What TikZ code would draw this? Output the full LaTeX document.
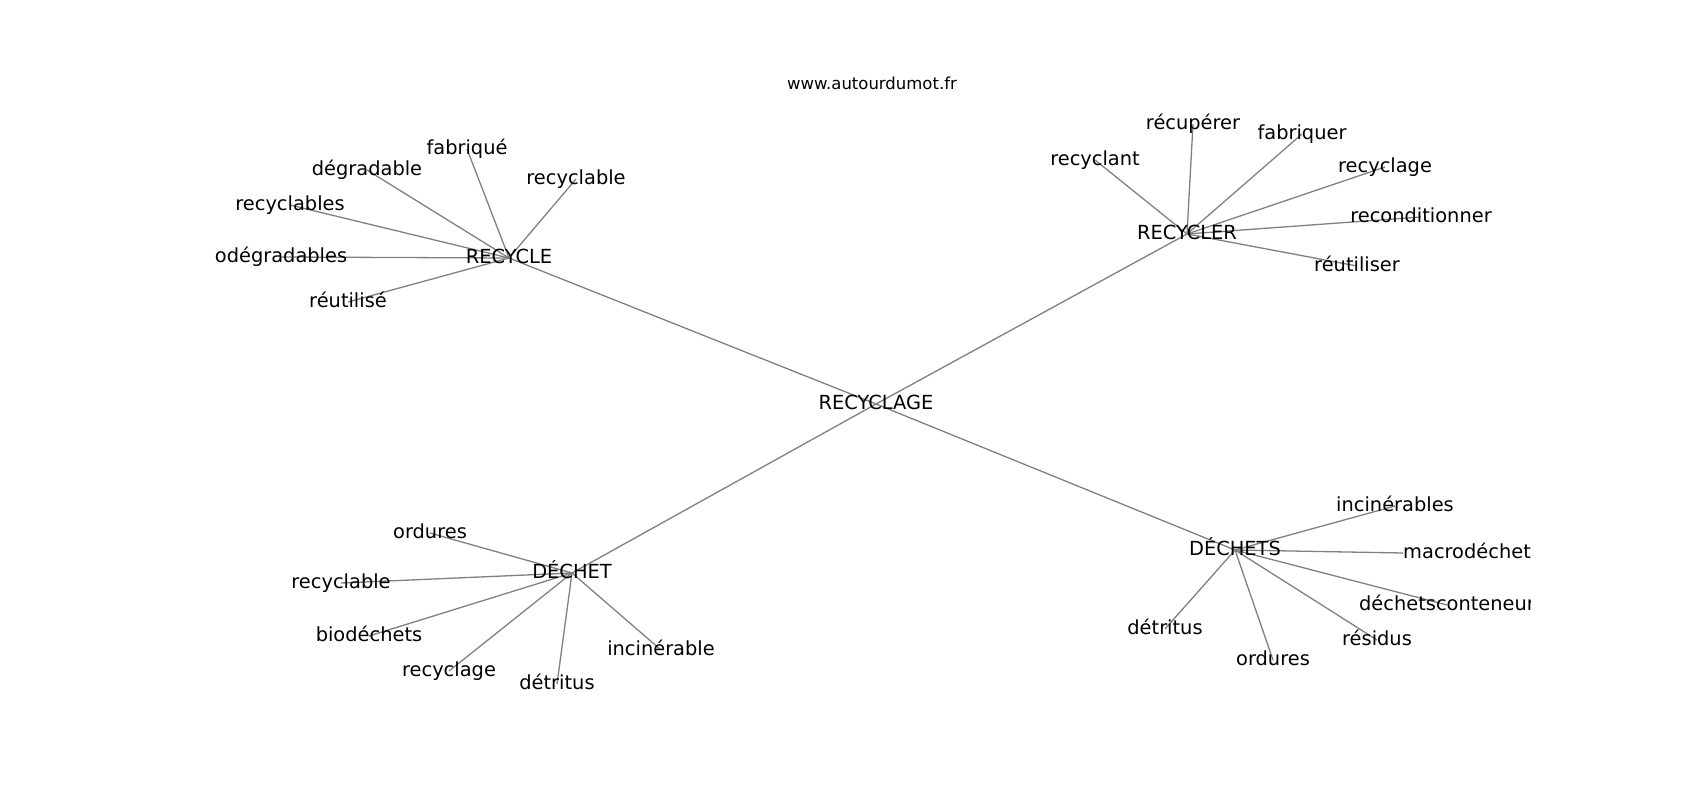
\documentclass[tikz,border=0pt]{standalone}
\usepackage{fontspec}
\setmainfont{DejaVu Sans}
\usetikzlibrary{backgrounds}

\begin{document}
\begin{tikzpicture}[x=1pt,y=-1pt,
		word/.style={inner sep=0pt,text height=1em,text depth=0pt,font=\fontsize{19.4}{22}\selectfont},
		link/.style={draw=gray,line width=1.3pt}]
			\useasboundingbox (0,0) rectangle (1700,800);
			\node[inner sep=0pt,text height=1em,text depth=0pt,font=\fontsize{16.5}{19}\selectfont] (site) at (872,84) {www.autourdumot.fr};
			\begin{scope}
				\clip (212.5,96) rectangle (1530,712);
				% centre et mots principaux
				\node[word] (rec) at (876,404) {RECYCLAGE};
				\node[word] (recycle) at (509,258) {RECYCLE};
				\node[word] (recycler) at (1187,234) {RECYCLER};
				\node[word] (dechets) at (1235,550) {DÉCHETS};
				\node[word] (dechet) at (572,573) {DÉCHET};
				% autour de RECYCLE
				\node[word] (fabrique) at (467,149) {fabriqué};
				\node[word] (degradable) at (367,170) {dégradable};
				\node[word] (recyclableA) at (576,179) {recyclable};
				\node[word] (recyclables) at (290,205) {recyclables};
				\node[word] (odegradables) at (281,257) {odégradables};
				\node[word] (reutilise) at (348,302) {réutilisé};
				% autour de RECYCLER
				\node[word] (recuperer) at (1193,124) {récupérer};
				\node[word] (fabriquer) at (1302,134) {fabriquer};
				\node[word] (recyclant) at (1095,160) {recyclant};
				\node[word] (recyclageA) at (1385,167) {recyclage};
				\node[word] (reconditionner) at (1421,217) {reconditionner};
				\node[word] (reutiliser) at (1357,266) {réutiliser};
				% autour de DECHETS
				\node[word] (incinerables) at (1395,506) {incinérables};
				\node[word,anchor=west] (macro) at (1403,553) {macrodéchet};
				\node[word] (conteneur) at (1447,605) {déchetsconteneur};
				\node[word] (residus) at (1377,640) {résidus};
				\node[word] (orduresA) at (1273,660) {ordures};
				\node[word] (detritusA) at (1165,629) {détritus};
				% autour de DECHET
				\node[word] (orduresB) at (430,533) {ordures};
				\node[word] (recyclableB) at (341,583) {recyclable};
				\node[word] (biodechets) at (369,636) {biodéchets};
				\node[word] (recyclageB) at (449,671) {recyclage};
				\node[word] (detritusB) at (557,684) {détritus};
				\node[word] (incinerable) at (661,650) {incinérable};
			\end{scope}
			\begin{scope}[on background layer]
				\draw[link] (rec.center) -- (recycle.center);
				\draw[link] (rec.center) -- (recycler.center);
				\draw[link] (rec.center) -- (dechets.center);
				\draw[link] (rec.center) -- (dechet.center);
				\draw[link] (recycle.center) -- (fabrique.center);
				\draw[link] (recycle.center) -- (degradable.center);
				\draw[link] (recycle.center) -- (recyclableA.center);
				\draw[link] (recycle.center) -- (recyclables.center);
				\draw[link] (recycle.center) -- (odegradables.center);
				\draw[link] (recycle.center) -- (reutilise.center);
				\draw[link] (recycler.center) -- (recuperer.center);
				\draw[link] (recycler.center) -- (fabriquer.center);
				\draw[link] (recycler.center) -- (recyclant.center);
				\draw[link] (recycler.center) -- (recyclageA.center);
				\draw[link] (recycler.center) -- (reconditionner.center);
				\draw[link] (recycler.center) -- (reutiliser.center);
				\draw[link] (dechets.center) -- (incinerables.center);
				\draw[link] (dechets.center) -- (macro.west);
				\draw[link] (dechets.center) -- (conteneur.center);
				\draw[link] (dechets.center) -- (residus.center);
				\draw[link] (dechets.center) -- (orduresA.center);
				\draw[link] (dechets.center) -- (detritusA.center);
				\draw[link] (dechet.center) -- (orduresB.center);
				\draw[link] (dechet.center) -- (recyclableB.center);
				\draw[link] (dechet.center) -- (biodechets.center);
				\draw[link] (dechet.center) -- (recyclageB.center);
				\draw[link] (dechet.center) -- (detritusB.center);
				\draw[link] (dechet.center) -- (incinerable.center);
			\end{scope}
		\end{tikzpicture}
\end{document}
